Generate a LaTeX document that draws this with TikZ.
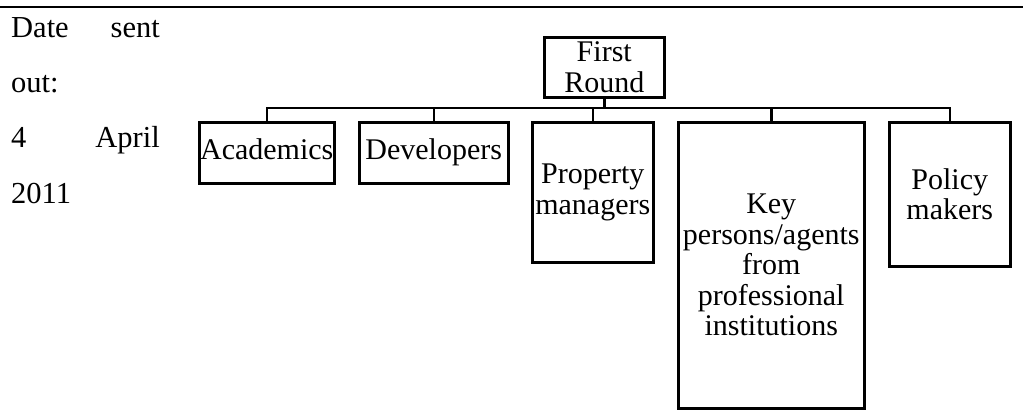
\documentclass[tikz,border=0pt]{standalone}
\usepackage{fontspec}
\setmainfont{Liberation Serif}
\begin{document}
\begin{tikzpicture}[x=1pt,y=-1pt,
  box/.style={draw, line width=2.5pt, rectangle, inner sep=0pt, align=center,
    anchor=north west, font=\fontsize{30}{30.5}\selectfont},
  one/.style={text height=20pt, text depth=6pt},
  side/.style={inner sep=0pt, font=\fontsize{30.5}{30.5}\selectfont},
  link/.style={line width=2.5pt}]
\useasboundingbox (0,0) rectangle (1023,410);
\draw[line width=2.6pt] (0,7) -- (1023,7);
% left text
\node[side, anchor=base west] (t1) at (11,37) {Date};
\node[side, anchor=base east] (t2) at (160,37) {sent};
\node[side, anchor=base west] (t3) at (11,92) {out:};
\node[side, anchor=base west] (t4) at (11,147) {4};
\node[side, anchor=base east] (t5) at (160,147) {April};
\node[side, anchor=base west] (t6) at (11,203) {2011};
% boxes
\node[box, minimum width=120pt, minimum height=60pt] (fr) at (543,36) {First\\Round};
\node[box, one, minimum width=135pt, minimum height=61pt] (ac) at (198,121) {Academics};
\node[box, one, minimum width=149pt, minimum height=61pt] (dv) at (358,121) {Developers};
\node[box, minimum width=121pt, minimum height=140pt] (pm) at (531,121) {Property\\managers};
\node[box, minimum width=186pt, minimum height=286pt] (kp) at (677,121) {Key\\persons/agents\\from\\professional\\institutions};
\node[box, minimum width=121pt, minimum height=144pt] (po) at (888,121) {Policy\\makers};
% connectors
\coordinate (bus) at (0,108);
\draw[link] (fr.south) -- (fr.south |- bus);
\draw[link] (ac.north) -- (ac.north |- bus) -- (po.north |- bus) -- (po.north);
\draw[link] (dv.north) -- (dv.north |- bus);
\draw[link] (pm.north) -- (pm.north |- bus);
\draw[link] (kp.north) -- (kp.north |- bus);
\end{tikzpicture}
\end{document}
